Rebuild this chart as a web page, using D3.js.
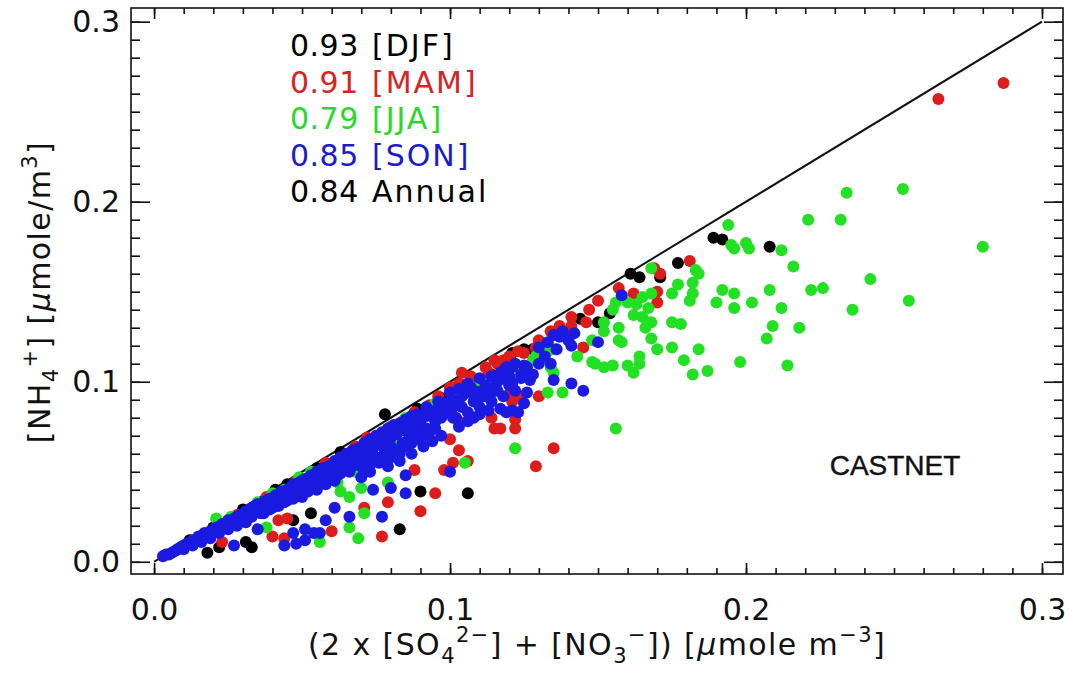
<!DOCTYPE html>
<html>
<head>
<meta charset="utf-8">
<script src="https://cdn.jsdelivr.net/npm/d3@7"></script>
<style>
  body { margin: 0; background: #fff; }
  text { font-family: "DejaVu Sans", sans-serif; }
</style>
</head>
<body>
<svg id="chart" width="1081" height="675"></svg>
<script>
// NH4+ versus 2*SO4(2-) + NO3(-) at CASTNET sites, one array per season, [x, y] in umole m-3
const djf = [
  [0.189,0.180],[0.192,0.179],[0.208,0.175],[0.177,0.166],[0.161,0.160],[0.164,0.158],[0.171,0.158],
  [0.144,0.135],[0.150,0.133],[0.154,0.138],[0.121,0.116],[0.125,0.118],[0.128,0.118],[0.114,0.104],
  [0.106,0.038],[0.090,0.039],[0.083,0.018],[0.078,0.082],[0.089,0.085],[0.097,0.091],[0.047,0.023],
  [0.053,0.027],[0.018,0.005],[0.022,0.008],[0.033,0.008],[0.031,0.011],[0.063,0.061],[0.055,0.052],
  [0.041,0.040],[0.012,0.012],[0.008,0.007],[0.020,0.019],[0.030,0.029],[0.045,0.043],[0.058,0.054]
];
const mam = [
  [0.287,0.266],[0.265,0.257],[0.181,0.167],[0.171,0.160],[0.169,0.163],[0.162,0.149],[0.170,0.150],
  [0.170,0.144],[0.146,0.133],[0.141,0.131],[0.140,0.125],[0.145,0.119],[0.130,0.123],[0.129,0.119],
  [0.130,0.092],[0.123,0.117],[0.115,0.112],[0.116,0.110],[0.104,0.105],[0.103,0.099],[0.100,0.095],
  [0.120,0.093],[0.121,0.089],[0.122,0.094],[0.124,0.092],[0.114,0.080],[0.115,0.074],[0.117,0.074],
  [0.122,0.079],[0.122,0.074],[0.103,0.078],[0.100,0.068],[0.103,0.062],[0.135,0.063],[0.101,0.055],
  [0.129,0.053],[0.098,0.051],[0.088,0.051],[0.095,0.038],[0.090,0.028],[0.079,0.033],[0.077,0.014],
  [0.071,0.030],[0.060,0.017],[0.044,0.013],[0.040,0.014],[0.023,0.011],[0.042,0.023],[0.045,0.024],
  [0.106,0.056],[0.072,0.069],[0.015,0.013],[0.028,0.026],[0.038,0.036],[0.048,0.045],[0.058,0.055],
  [0.068,0.064],[0.080,0.075],[0.088,0.083],[0.096,0.092],[0.107,0.103],[0.110,0.100],[0.112,0.108],
  [0.118,0.112],[0.134,0.128],[0.150,0.145],[0.157,0.152],[0.035,0.030],[0.043,0.036],[0.052,0.044],
  [0.062,0.053],[0.066,0.059],[0.075,0.066],[0.084,0.078],[0.093,0.087],[0.100,0.097],[0.105,0.098],
  [0.113,0.105],[0.120,0.114],[0.125,0.116],[0.137,0.131],[0.141,0.136],[0.147,0.140],[0.055,0.043],
  [0.069,0.054],[0.081,0.063]
];
const jja = [
  [0.280,0.175],[0.253,0.207],[0.234,0.205],[0.221,0.190],[0.232,0.190],[0.194,0.187],[0.195,0.176],
  [0.196,0.174],[0.200,0.177],[0.201,0.174],[0.212,0.173],[0.216,0.164],[0.222,0.151],[0.226,0.152],
  [0.236,0.140],[0.242,0.157],[0.255,0.145],[0.208,0.151],[0.212,0.141],[0.209,0.131],[0.218,0.130],
  [0.207,0.124],[0.198,0.111],[0.214,0.109],[0.192,0.151],[0.196,0.149],[0.190,0.144],[0.196,0.141],
  [0.202,0.144],[0.182,0.155],[0.182,0.149],[0.181,0.145],[0.177,0.154],[0.175,0.149],[0.175,0.133],
  [0.178,0.132],[0.175,0.119],[0.184,0.118],[0.179,0.112],[0.182,0.104],[0.187,0.106],[0.168,0.124],
  [0.170,0.118],[0.164,0.114],[0.164,0.110],[0.162,0.105],[0.160,0.109],[0.155,0.109],[0.152,0.108],
  [0.149,0.110],[0.157,0.130],[0.157,0.123],[0.165,0.147],[0.168,0.149],[0.167,0.141],[0.162,0.137],
  [0.165,0.136],[0.168,0.133],[0.166,0.130],[0.163,0.143],[0.160,0.144],[0.156,0.144],[0.155,0.140],
  [0.152,0.133],[0.152,0.128],[0.168,0.163],[0.183,0.162],[0.184,0.160],[0.156,0.074],[0.148,0.123],
  [0.143,0.114],[0.148,0.111],[0.138,0.094],[0.133,0.094],[0.135,0.118],[0.133,0.117],[0.158,0.122],
  [0.129,0.114],[0.128,0.112],[0.134,0.108],[0.135,0.105],[0.122,0.063],[0.105,0.055],[0.079,0.044],
  [0.069,0.013],[0.066,0.019],[0.071,0.027],[0.056,0.011],[0.066,0.036],[0.070,0.041],[0.063,0.039],
  [0.062,0.044],[0.031,0.022],[0.038,0.019],[0.021,0.024],[0.026,0.025],[0.035,0.033],[0.044,0.040],
  [0.053,0.050],[0.065,0.058],[0.072,0.064],[0.085,0.080],[0.095,0.088],[0.045,0.036],[0.060,0.047],
  [0.068,0.050],[0.078,0.064],[0.082,0.066],[0.090,0.074],[0.098,0.082],[0.110,0.098],[0.040,0.038],
  [0.049,0.047]
];
const son = [
  [0.158,0.148],[0.150,0.122],[0.142,0.127],[0.140,0.123],[0.141,0.120],[0.137,0.125],[0.145,0.095],
  [0.141,0.099],[0.135,0.101],[0.119,0.108],[0.121,0.108],[0.125,0.109],[0.126,0.105],[0.117,0.105],
  [0.119,0.101],[0.121,0.099],[0.124,0.102],[0.127,0.101],[0.107,0.097],[0.111,0.095],[0.114,0.094],
  [0.115,0.097],[0.111,0.092],[0.109,0.090],[0.106,0.094],[0.102,0.089],[0.101,0.086],[0.099,0.083],
  [0.101,0.080],[0.126,0.094],[0.125,0.088],[0.121,0.084],[0.119,0.083],[0.123,0.083],[0.117,0.085],
  [0.108,0.080],[0.100,0.050],[0.085,0.048],[0.085,0.038],[0.080,0.041],[0.074,0.040],[0.077,0.025],
  [0.066,0.025],[0.061,0.030],[0.058,0.023],[0.054,0.016],[0.051,0.018],[0.047,0.016],[0.044,0.009],
  [0.051,0.012],[0.056,0.016],[0.035,0.018],[0.027,0.009],[0.048,0.010],
  [0.003,0.003],[0.004,0.004],[0.005,0.004],[0.006,0.005],[0.007,0.006],[0.008,0.007],[0.009,0.008],
  [0.010,0.009],[0.011,0.010],[0.012,0.010],[0.013,0.012],[0.014,0.012],[0.015,0.014],[0.016,0.014],
  [0.017,0.016],[0.018,0.015],[0.019,0.017],[0.020,0.018],[0.021,0.019],[0.022,0.019],[0.023,0.021],
  [0.024,0.020],[0.025,0.023],[0.026,0.022],[0.027,0.024],[0.028,0.025],[0.029,0.026],[0.030,0.025],
  [0.031,0.028],[0.032,0.027],[0.033,0.030],[0.034,0.028],[0.035,0.032],[0.036,0.030],[0.037,0.033],
  [0.038,0.031],[0.039,0.035],[0.040,0.033],[0.041,0.037],[0.042,0.034],[0.043,0.039],[0.044,0.036],
  [0.045,0.040],[0.046,0.038],[0.047,0.043],[0.048,0.040],[0.049,0.044],[0.050,0.041],[0.051,0.046],
  [0.052,0.043],[0.053,0.048],[0.054,0.045],[0.055,0.050],[0.056,0.046],[0.057,0.052],[0.058,0.048],
  [0.059,0.053],[0.060,0.050],[0.045,0.034],[0.050,0.036],[0.055,0.040],[0.058,0.043],[0.040,0.030],
  [0.037,0.027],[0.061,0.056],[0.062,0.052],[0.063,0.058],[0.064,0.054],[0.065,0.060],[0.066,0.055],
  [0.067,0.062],[0.068,0.057],[0.069,0.063],[0.070,0.059],[0.071,0.066],[0.072,0.061],[0.073,0.068],
  [0.074,0.063],[0.075,0.070],[0.076,0.065],[0.077,0.072],[0.078,0.067],[0.079,0.074],[0.080,0.069],
  [0.081,0.076],[0.082,0.071],[0.083,0.077],[0.084,0.073],[0.085,0.079],[0.086,0.074],[0.087,0.081],
  [0.088,0.076],[0.089,0.082],[0.090,0.078],[0.062,0.048],[0.066,0.050],[0.070,0.053],[0.072,0.056],
  [0.075,0.058],[0.078,0.061],[0.080,0.064],[0.082,0.062],[0.084,0.066],[0.086,0.068],[0.088,0.070],
  [0.090,0.072],[0.076,0.055],[0.080,0.058],[0.092,0.086],[0.094,0.083],[0.096,0.089],[0.098,0.085],
  [0.100,0.094],[0.101,0.090],[0.103,0.096],[0.104,0.092],[0.106,0.099],[0.108,0.095],[0.110,0.102],
  [0.112,0.098],[0.114,0.103],[0.116,0.100],[0.118,0.106],[0.120,0.103],[0.122,0.110],[0.130,0.119],
  [0.133,0.122],[0.135,0.126],[0.138,0.128],[0.092,0.074],[0.095,0.078],[0.097,0.080],
  [0.010,0.007],[0.013,0.009],[0.016,0.011],[0.019,0.013],[0.022,0.016],[0.025,0.018],[0.028,0.020],
  [0.031,0.022],[0.033,0.025],[0.036,0.027],[0.039,0.029],[0.042,0.031],[0.044,0.033],[0.047,0.035],
  [0.049,0.038],[0.052,0.039],[0.054,0.041],[0.057,0.044],[0.059,0.046],[0.034,0.031],[0.038,0.034],
  [0.041,0.035],[0.046,0.041],[0.050,0.045],[0.053,0.046],[0.056,0.049],[0.059,0.051],[0.061,0.045],
  [0.063,0.049],[0.065,0.051],[0.067,0.053],[0.069,0.055],[0.071,0.050],[0.073,0.054],[0.074,0.058],
  [0.077,0.057],[0.079,0.060],[0.081,0.062],[0.083,0.060],[0.085,0.064],[0.087,0.066],[0.089,0.068],
  [0.091,0.070],[0.093,0.072],[0.095,0.074],[0.064,0.057],[0.068,0.060],[0.071,0.063],[0.074,0.066],
  [0.077,0.069],[0.080,0.072],[0.083,0.074],[0.086,0.077],[0.089,0.079],[0.092,0.081],[0.095,0.084],
  [0.098,0.088],[0.070,0.047],[0.073,0.050],[0.079,0.053],[0.083,0.056],[0.087,0.060],[0.091,0.064],
  [0.094,0.067],[0.097,0.070],[0.100,0.084],[0.102,0.080],[0.104,0.086],[0.106,0.083],[0.108,0.089],
  [0.110,0.086],[0.112,0.092],[0.114,0.089],[0.116,0.095],[0.118,0.092],[0.120,0.098],[0.122,0.095],
  [0.124,0.104],[0.126,0.108],[0.128,0.104],[0.130,0.110],[0.132,0.114],[0.134,0.110],[0.136,0.118],
  [0.103,0.075],[0.106,0.078],[0.110,0.082],[0.113,0.084]
];

// seasonal correlation coefficients shown in the key
const seasonNames = ["[DJF]", "[MAM]", "[JJA]", "[SON]", "Annual"];
const seasonR = ["0.93", "0.91", "0.79", "0.85", "0.84"];
const seasonColors = ["#000000", "#dd1c1c", "#22e022", "#1a1ae0", "#000000"];
const textColors = ["#000000", "#d42424", "#2ad82a", "#1c1cc8", "#000000"];

const xTickValues = [0, 0.1, 0.2, 0.3];
const yTickValues = [0, 0.1, 0.2, 0.3];
const minorTickValues = d3.range(0, 31).map(i => i / 100);
const oneToOne = [0, 0.3];

const svg = d3.select("#chart");
const box = { left: 131, right: 1063, top: 8, bottom: 574 };

const x = d3.scaleLinear().domain([-0.0078, 0.3071]).range([box.left, box.right]);
const y = d3.scaleLinear().domain([-0.0068, 0.3076]).range([box.bottom, box.top]);

svg.append("rect").attr("width", 1081).attr("height", 675).attr("fill", "#fff");

// 1:1 reference line
svg.append("line")
  .attr("x1", x(oneToOne[0])).attr("y1", y(oneToOne[0]))
  .attr("x2", x(oneToOne[1])).attr("y2", y(oneToOne[1]))
  .attr("stroke", "#111").attr("stroke-width", 2);

// points, winter first so autumn sits on top
const layers = [djf, mam, jja, son];
layers.forEach((pts, i) => {
  svg.append("g").selectAll("circle").data(pts).join("circle")
    .attr("cx", d => x(d[0])).attr("cy", d => y(d[1]))
    .attr("r", 6).attr("fill", seasonColors[i]);
});

// frame
svg.append("rect")
  .attr("x", box.left).attr("y", box.top)
  .attr("width", box.right - box.left).attr("height", box.bottom - box.top)
  .attr("fill", "none").attr("stroke", "#111").attr("stroke-width", 1.6);

function styleAxis(g) {
  g.select(".domain").remove();
  g.selectAll(".tick line").attr("stroke", "#111").attr("stroke-width", 1.6);
  g.selectAll(".tick text").attr("fill", "#111")
    .style("font-family", "'DejaVu Sans', sans-serif").style("font-size", "30px");
}

// bottom axis with labels
svg.append("g").attr("transform", `translate(0,${box.bottom})`)
  .call(d3.axisBottom(x).tickValues(xTickValues).tickSize(-11).tickSizeOuter(0).tickPadding(25)
    .tickFormat(d3.format(".1f")))
  .call(styleAxis);
svg.append("g").attr("transform", `translate(0,${box.bottom})`)
  .call(d3.axisBottom(x).tickValues(minorTickValues).tickSize(-6).tickSizeOuter(0).tickFormat(""))
  .call(styleAxis);
// top axis
svg.append("g").attr("transform", `translate(0,${box.top})`)
  .call(d3.axisTop(x).tickValues(xTickValues).tickSize(-11).tickSizeOuter(0).tickFormat(""))
  .call(styleAxis);
svg.append("g").attr("transform", `translate(0,${box.top})`)
  .call(d3.axisTop(x).tickValues(minorTickValues).tickSize(-6).tickSizeOuter(0).tickFormat(""))
  .call(styleAxis);
// left axis with labels
svg.append("g").attr("transform", `translate(${box.left},0)`)
  .call(d3.axisLeft(y).tickValues(yTickValues).tickSize(-19).tickSizeOuter(0).tickPadding(11)
    .tickFormat(d3.format(".1f")))
  .call(styleAxis);
svg.append("g").attr("transform", `translate(${box.left},0)`)
  .call(d3.axisLeft(y).tickValues(minorTickValues).tickSize(-9).tickSizeOuter(0).tickFormat(""))
  .call(styleAxis);
// right axis
svg.append("g").attr("transform", `translate(${box.right},0)`)
  .call(d3.axisRight(y).tickValues(yTickValues).tickSize(-19).tickSizeOuter(0).tickFormat(""))
  .call(styleAxis);
svg.append("g").attr("transform", `translate(${box.right},0)`)
  .call(d3.axisRight(y).tickValues(minorTickValues).tickSize(-9).tickSizeOuter(0).tickFormat(""))
  .call(styleAxis);

// rich text helper: kinds 0 normal, 1 subscript, 2 superscript, 3 back to baseline, 4 italic
function richText(el, parts, sub, sup) {
  let shift = 0;
  parts.forEach(([t, k]) => {
    const s = el.append("tspan").text(t);
    let target = 0;
    if (k === 1) target = sub;
    if (k === 2) target = sup;
    if (shift !== target) s.attr("dy", target - shift);
    shift = target;
    if (k === 1 || k === 2) s.style("font-size", "21px");
    if (k === 4) s.style("font-style", "italic");
  });
}

// x axis title
const xt = svg.append("text").attr("x", (box.left + box.right) / 2).attr("y", 655)
  .attr("text-anchor", "middle").attr("fill", "#111")
  .style("font-size", "30px").style("letter-spacing", "1.4px");
richText(xt, [
  ["(2 x [SO", 0], ["4", 1], ["2\u2212", 2], ["] + [NO", 3], ["3", 1], ["\u2212", 2], ["]) [", 3],
  ["\u03bc", 4], ["mole m", 0], ["\u22123", 2], ["]", 3]
], 8, -13);

// y axis title
const yt = svg.append("text").attr("transform", "translate(50,292) rotate(-90)")
  .attr("text-anchor", "middle").attr("fill", "#111")
  .style("font-size", "30px").style("letter-spacing", "1.4px");
richText(yt, [
  ["[NH", 0], ["4", 1], ["+", 2], ["] [", 3], ["\u03bc", 4], ["mole/m", 0], ["3", 2], ["]", 3]
], 8, -13);

// key with correlation coefficients
const key = svg.append("g");
seasonR.forEach((r, i) => {
  const row = key.append("text").attr("y", 56 + i * 36.5).attr("fill", textColors[i])
    .style("font-size", "30px");
  row.append("tspan").attr("x", 290).style("letter-spacing", "0.5px").text(r);
  row.append("tspan").attr("x", 372).style("letter-spacing", "2px").text(seasonNames[i]);
});

// network label
svg.append("text").attr("x", 895).attr("y", 475).attr("text-anchor", "middle")
  .attr("fill", "#111").style("font-family", "'Liberation Sans', Arial, sans-serif")
  .style("font-size", "28px").attr("stroke", "#111").attr("stroke-width", 0.4)
  .text("CASTNET");
</script>
</body>
</html>
